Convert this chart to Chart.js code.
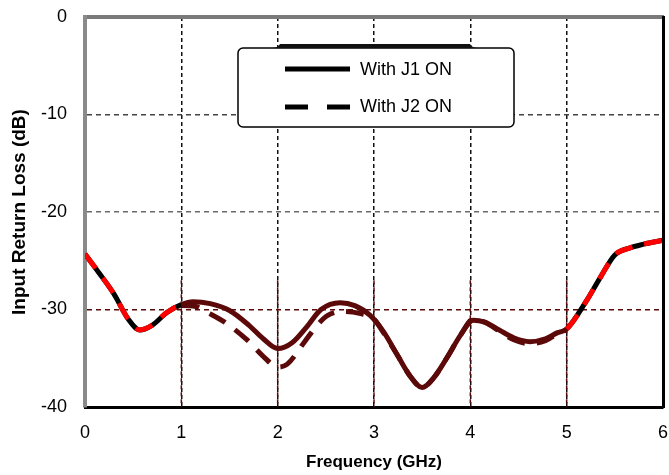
<!DOCTYPE html>
<html>
<head>
<meta charset="utf-8">
<script src="https://cdn.jsdelivr.net/npm/chart.js@4.4.0/dist/chart.umd.min.js"></script>
<style>
  html, body { margin: 0; padding: 0; background: #fff; }
  #wrap { width: 669px; height: 475px; }
</style>
</head>
<body>
<div id="wrap"><canvas id="rlChart" width="669" height="475"></canvas></div>
<script>
// values
const freqJ1 = [0, 0.15, 0.3, 0.45, 0.57, 0.7, 0.85, 1.0, 1.12, 1.3, 1.5, 1.7, 1.85, 2.0, 2.15, 2.3, 2.45, 2.65, 2.8, 2.96,
  3.1, 3.25, 3.38, 3.5, 3.62, 3.76, 3.9, 4.03, 4.15, 4.3, 4.45, 4.62, 4.78, 4.9, 5.0, 5.2, 5.35, 5.5, 5.65, 5.8, 6.0];
const lossJ1 = [-24.3, -26.3, -28.4, -31.0, -32.1, -31.6, -30.3, -29.5, -29.2, -29.4, -30.1, -31.6, -33.0, -34.0, -33.4, -31.8, -30.0, -29.3, -29.6, -30.6,
  -32.3, -34.8, -36.9, -38.0, -37.0, -34.9, -32.6, -31.1, -31.3, -32.1, -32.9, -33.3, -33.0, -32.4, -32.0, -29.2, -26.7, -24.4, -23.7, -23.3, -22.9];

const freqJ2 = [0, 0.15, 0.3, 0.45, 0.57, 0.7, 0.85, 1.0, 1.15, 1.27, 1.45, 1.68, 1.85, 2.0, 2.1, 2.28, 2.42, 2.52, 2.68, 2.85, 3.0,
  3.1, 3.25, 3.38, 3.5, 3.62, 3.76, 3.9, 4.03, 4.15, 4.3, 4.45, 4.62, 4.78, 4.9, 5.0, 5.2, 5.35, 5.5, 5.65, 5.8, 6.0];
const lossJ2 = [-24.3, -26.3, -28.4, -31.0, -32.1, -31.6, -30.3, -29.6, -29.7, -30.3, -31.3, -33.1, -34.8, -35.9, -35.6, -33.3, -31.5, -30.6, -30.2, -30.4, -31.0,
  -32.4, -34.8, -36.9, -38.0, -37.0, -34.9, -32.6, -31.0, -31.3, -32.2, -33.1, -33.5, -33.2, -32.5, -32.0, -29.2, -26.7, -24.4, -23.7, -23.3, -22.9];

const seriesNames = ['With J1 ON', 'With J2 ON'];
const xTicks = [0, 1, 2, 3, 4, 5, 6];
const yTicks = [0, -10, -20, -30, -40];

const maroon = '#5c0909';
const toPoints = (xs, ys) => xs.map((x, i) => ({ x: x, y: ys[i] }));
const inMiddle = ctx => ctx.p0.parsed.x >= 1 && ctx.p1.parsed.x <= 5;
const noPad = s => { s.paddingLeft = 0; s.paddingRight = 0; s.paddingTop = 0; s.paddingBottom = 0; };

// lower part of the 1..5 GHz grid lines is maroon in the picture
const maroonGrid = {
  id: 'maroonGrid',
  beforeDatasetsDraw(chart) {
    const { ctx, scales } = chart;
    ctx.save();
    ctx.strokeStyle = maroon;
    ctx.lineWidth = 1.5;
    ctx.setLineDash([4, 3]);
    [1, 2, 3, 4, 5].forEach(v => {
      const px = scales.x.getPixelForValue(v);
      ctx.beginPath();
      ctx.moveTo(px, scales.y.getPixelForValue(-27));
      ctx.lineTo(px, scales.y.getPixelForValue(-40));
      ctx.stroke();
    });
    ctx.restore();
  }
};

const boxLegend = {
  id: 'boxLegend',
  afterDraw(chart) {
    const ctx = chart.ctx;
    ctx.save();
    ctx.setLineDash([]);
    ctx.fillStyle = '#fff';
    ctx.strokeStyle = '#000';
    ctx.lineWidth = 1.5;
    ctx.beginPath();
    ctx.roundRect(238, 48, 276, 79, 5);
    ctx.fill();
    ctx.stroke();
    ctx.fillStyle = '#111';
    ctx.beginPath();
    ctx.moveTo(272, 48);
    ctx.quadraticCurveTo(278, 48, 280, 44);
    ctx.lineTo(470, 44);
    ctx.quadraticCurveTo(472, 48, 478, 48);
    ctx.closePath();
    ctx.fill();

    ctx.lineWidth = 5;
    ctx.beginPath();
    ctx.moveTo(285, 69);
    ctx.lineTo(350, 69);
    ctx.stroke();
    ctx.setLineDash([23, 19]);
    ctx.beginPath();
    ctx.moveTo(285, 107);
    ctx.lineTo(350, 107);
    ctx.stroke();
    ctx.setLineDash([]);

    ctx.fillStyle = '#000';
    ctx.font = '18px "Liberation Sans", Arial, sans-serif';
    ctx.textBaseline = 'middle';
    ctx.fillText(seriesNames[0], 360, 70);
    ctx.fillText(seriesNames[1], 360, 107);
    ctx.restore();
  }
};

const tickFont = { family: '"Liberation Sans", Arial, sans-serif', size: 18 };
const xTitleFont = { family: '"Liberation Sans", Arial, sans-serif', size: 17, weight: 'bold' };
const yTitleFont = { family: '"Liberation Sans", Arial, sans-serif', size: 19, weight: 'bold' };

new Chart(document.getElementById('rlChart'), {
  type: 'line',
  data: {
    datasets: [{
      label: seriesNames[0],
      data: toPoints(freqJ1, lossJ1),
      borderColor: '#000',
      borderWidth: 5,
      pointRadius: 0,
      cubicInterpolationMode: 'monotone',
      order: 1,
      segment: { borderColor: ctx => inMiddle(ctx) ? maroon : '#000' }
    }, {
      label: seriesNames[1],
      data: toPoints(freqJ2, lossJ2),
      borderColor: '#ff0000',
      borderWidth: 5,
      borderDash: [18, 12],
      pointRadius: 0,
      cubicInterpolationMode: 'monotone',
      order: 0,
      segment: { borderColor: ctx => inMiddle(ctx) ? maroon : '#ff0000' }
    }]
  },
  options: {
    responsive: false,
    animation: false,
    layout: { padding: 0 },
    plugins: {
      legend: { display: false },
      tooltip: { enabled: false }
    },
    scales: {
      x: {
        type: 'linear',
        min: 0,
        max: 6,
        afterFit: s => { s.height = 68; noPad(s); },
        afterBuildTicks: s => { s.ticks = xTicks.map(v => ({ value: v })); },
        ticks: { font: tickFont, color: '#000', padding: 15 },
        grid: {
          drawTicks: false,
          color: c => (c.tick && (c.tick.value === 0 || c.tick.value === 6)) ? 'rgba(0,0,0,0)' : '#111',
          lineWidth: 1.5
        },
        border: { display: true, color: '#000', width: 3, dash: [4, 3] },
        title: { display: true, text: 'Frequency (GHz)', font: xTitleFont, color: '#000', padding: { top: 0, bottom: 2 } }
      },
      x2: {
        type: 'linear',
        position: 'top',
        min: 0,
        max: 6,
        afterFit: s => { s.height = 17; noPad(s); },
        ticks: { display: false },
        grid: { display: false },
        border: { display: true, color: '#7a7a7a', width: 4 }
      },
      y: {
        type: 'linear',
        min: -40,
        max: 0,
        afterFit: s => { s.width = 85; noPad(s); },
        afterBuildTicks: s => { s.ticks = yTicks.map(v => ({ value: v })); },
        ticks: { font: tickFont, color: '#000', padding: 18 },
        grid: {
          drawTicks: false,
          color: c => {
            if (!c.tick) return '#555';
            const v = c.tick.value;
            if (v === 0 || v === -40) return 'rgba(0,0,0,0)';
            if (v === -30) return maroon;
            return v === -10 ? '#444' : '#6a6a6a';
          },
          lineWidth: 1.5
        },
        border: { display: true, color: '#8a8a8a', width: 4, dash: [5, 4] },
        title: { display: true, text: 'Input Return Loss (dB)', font: yTitleFont, color: '#000', padding: { top: 8, bottom: 0 } }
      },
      y2: {
        type: 'linear',
        position: 'right',
        min: -40,
        max: 0,
        afterFit: s => { s.width = 6; noPad(s); },
        ticks: { display: false },
        grid: { display: false },
        border: { display: true, color: '#000', width: 3 }
      }
    }
  },
  plugins: [maroonGrid, boxLegend]
});
</script>
</body>
</html>
